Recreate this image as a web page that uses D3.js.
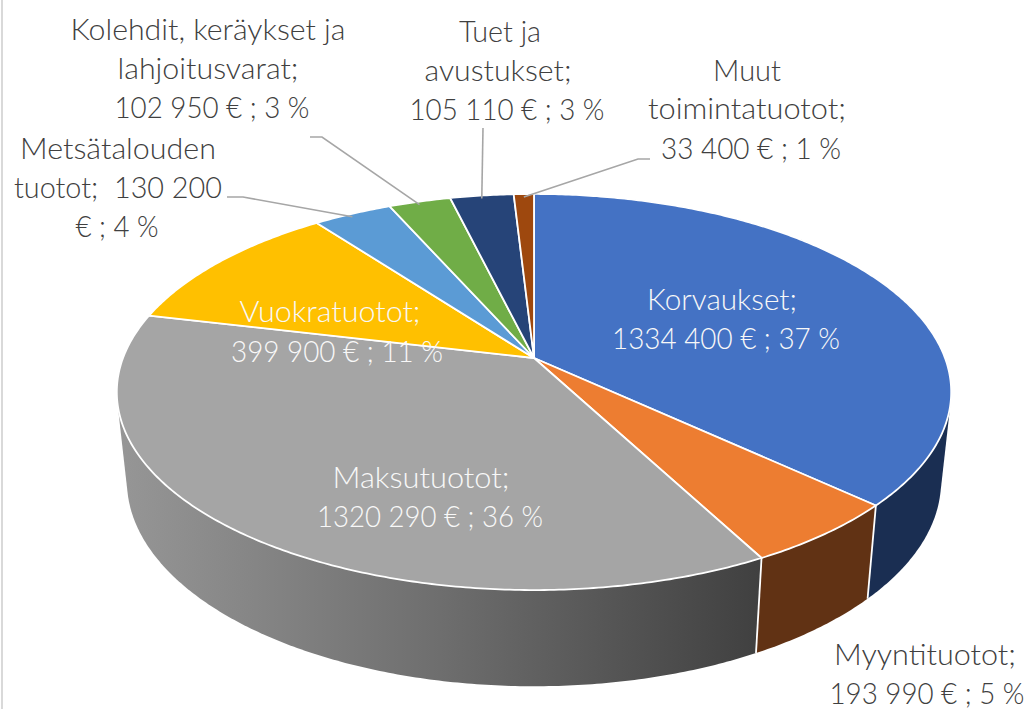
<!DOCTYPE html>
<html>
<head>
<meta charset="utf-8">
<script src="https://cdn.jsdelivr.net/npm/d3@7"></script>
<style>
  body { margin: 0; background: #fff; }
  .label { font-family: Lato, sans-serif; font-weight: 300; font-size: 30px; text-anchor: middle; }
  .leader { fill: none; stroke: #a6a6a6; stroke-width: 1.6; }
</style>
</head>
<body>
<script>
// Values
var names = ["Korvaukset", "Myyntituotot", "Maksutuotot", "Vuokratuotot", "Metsätalouden tuotot",
             "Kolehdit, keräykset ja lahjoitusvarat", "Tuet ja avustukset", "Muut toimintatuotot"];
var values = [1334400, 193990, 1320290, 399900, 130200, 102950, 105110, 33400];

// Colours
var topColors = ["#4472c4", "#ed7d31", "#a5a5a5", "#ffc000", "#5b9bd5", "#70ad47", "#264478", "#9e480e"];
var sideColors = ["#1a2e52", "#613214", "url(#sideGrey)", "#997300", "#375d80", "#43682b", "#16294a", "#5f2b08"];

// Label text, one list per slice
var labelLines = [
  ["Korvaukset;", "1334 400 € ; 37 %"],
  ["Myyntituotot;", "193 990 € ; 5 %"],
  ["Maksutuotot;", "1320 290 € ; 36 %"],
  ["Vuokratuotot;", "399 900 € ; 11 %"],
  ["Metsätalouden", "tuotot;  130 200", "€ ; 4 %"],
  ["Kolehdit, keräykset ja", "lahjoitusvarat;", "102 950 € ; 3 %"],
  ["Tuet ja", "avustukset;", "105 110 € ; 3 %"],
  ["Muut", "toimintatuotot;", "33 400 € ; 1 %"]
];

// Where the label lines sit: [center x, baseline y, width]
var labelPlace = [
  [[722, 310, 150], [726, 349, 228]],
  [[925, 665, 182], [927, 704, 195]],
  [[421, 488, 177], [430, 527, 226]],
  [[330, 322, 181], [337, 362, 212]],
  [[118, 159, 196], [118, 198, 208], [117, 237, 83]],
  [[208, 40, 275], [208, 79, 181], [212, 118, 195]],
  [[500, 42, 82], [498, 81, 147], [507, 120, 195]],
  [[747, 81, 68], [747, 119, 198], [751, 159, 180]]
];
var labelColor = ["#f8f8f8", "#404040", "#f8f8f8", "#f8f8f8", "#404040", "#404040", "#404040", "#404040"];

// Leader line start and elbow by slice index
var leaders = {
  4: [[227, 197], [243, 197]],
  5: [[310, 137], [322, 137]],
  6: [[483, 128], [483, 128]],
  7: [[650, 159], [638, 159]]
};

var width = 1028,
    height = 709;

var svg = d3.select("body").append("svg")
    .attr("width", width)
    .attr("height", height)
    .style("display", "block");

// left frame line
svg.append("rect")
    .attr("x", 1)
    .attr("y", 0)
    .attr("width", 2)
    .attr("height", height)
    .attr("fill", "#d9d9d9");

var grad = svg.append("defs").append("linearGradient")
    .attr("id", "sideGrey")
    .attr("gradientUnits", "userSpaceOnUse")
    .attr("x1", 120).attr("y1", 0)
    .attr("x2", 760).attr("y2", 0);
grad.append("stop").attr("offset", "0%").attr("stop-color", "#969696");
grad.append("stop").attr("offset", "50%").attr("stop-color", "#6e6e6e");
grad.append("stop").attr("offset", "100%").attr("stop-color", "#404040");

// Perspective: the unit circle is flattened, nearer points get bigger
var tilt = 0.1717;
var topDisc = {x: 534, y: 358, a: 411, b: 192.2};
var bottomDisc = {x: 534, y: 446, a: 401, b: 199};

function project(disc, angle) {
  var u = Math.sin(angle),
      v = -Math.cos(angle),
      w = 1 - tilt * v;
  return [disc.x + disc.a * u / w, disc.y + disc.b * v / w];
}

var pie = d3.pie().sort(null)(values);

function rim(disc, start, end) {
  var n = Math.max(2, Math.ceil((end - start) / 0.01));
  return d3.range(n + 1).map(function(i) {
    return project(disc, start + (end - start) * i / n);
  });
}

var line = d3.line();

// Side walls: hull of both rims, the top of the pie covers whatever is too much
svg.selectAll(".side")
    .data(pie)
  .join("path")
    .attr("class", "side")
    .attr("d", function(d) {
      return line(d3.polygonHull(rim(topDisc, d.startAngle, d.endAngle)
        .concat(rim(bottomDisc, d.startAngle, d.endAngle)))) + "Z";
    })
    .attr("fill", function(d, i) { return sideColors[i]; });

// white seams between the wall parts (only on the near side)
svg.selectAll(".seam")
    .data(pie.filter(function(d) { return d.endAngle < Math.PI; }))
  .join("line")
    .attr("class", "seam")
    .attr("x1", function(d) { return project(topDisc, d.endAngle)[0]; })
    .attr("y1", function(d) { return project(topDisc, d.endAngle)[1]; })
    .attr("x2", function(d) { return project(bottomDisc, d.endAngle)[0]; })
    .attr("y2", function(d) { return project(bottomDisc, d.endAngle)[1]; })
    .attr("stroke", "#fff")
    .attr("stroke-width", 1.8);

// Top of the pie
svg.selectAll(".slice")
    .data(pie)
  .join("path")
    .attr("class", "slice")
    .attr("d", function(d) {
      return line([[topDisc.x, topDisc.y]].concat(rim(topDisc, d.startAngle, d.endAngle))) + "Z";
    })
    .attr("fill", function(d, i) { return topColors[i]; })
    .attr("stroke", "#fff")
    .attr("stroke-width", 1.8)
    .attr("stroke-linejoin", "round");

// Leader lines end on the rim in the middle of the slice
Object.keys(leaders).forEach(function(k) {
  var d = pie[k];
  var end = project(topDisc, (d.startAngle + d.endAngle) / 2);
  svg.append("path")
      .attr("class", "leader")
      .attr("d", line(leaders[k].concat([[end[0], end[1] + 3]])));
});

// Labels, squeezed to the measured line widths
labelLines.forEach(function(lines, i) {
  lines.forEach(function(txt, j) {
    svg.append("text")
        .attr("class", "label")
        .attr("x", labelPlace[i][j][0])
        .attr("y", labelPlace[i][j][1])
        .attr("textLength", labelPlace[i][j][2])
        .attr("lengthAdjust", "spacingAndGlyphs")
        .attr("fill", labelColor[i])
        .style("white-space", "pre")
        .text(txt);
  });
});
</script>
</body>
</html>
